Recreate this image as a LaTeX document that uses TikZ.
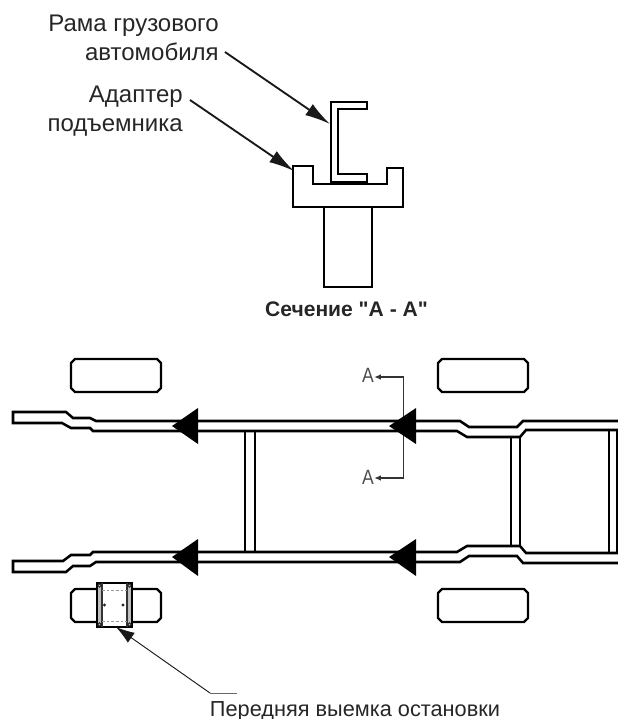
\documentclass[tikz,border=0pt]{standalone}
\usepackage{fontspec}
\setmainfont{Liberation Sans}[Ligatures=TeXOff]
\usetikzlibrary{arrows.meta}
\tikzset{
 lab/.style={font=\fontsize{18}{20}\selectfont,text=black!85,inner sep=0pt},
 thick line/.style={line width=1.8pt,line join=miter},
 rail/.style={line width=1.9pt,line join=miter,line cap=butt},
 leader/.style={line width=1.4pt,-{Latex[length=19pt,width=10pt]},black!90},
 tip/.style={fill=black,draw=none},
 wheel/.style={line width=1.8pt,line join=round},
 seclab/.style={font=\fontsize{15.5}{17}\selectfont,text=black!70,inner sep=0pt},
 secline/.style={line width=0.85pt,black!80,-{Latex[length=5pt,width=4pt]}},
}
\newcommand{\wheelbox}[2]{\draw[wheel] (#1+4,#2) -- (#1+86,#2) -- (#1+90,#2+4) -- (#1+90,#2+29) -- (#1+86,#2+33) -- (#1+4,#2+33) -- (#1,#2+29) -- (#1,#2+4) -- cycle;}
\begin{document}
\begin{tikzpicture}[x=0.75pt,y=-0.75pt]
\useasboundingbox (0,0) rectangle (618,719);
% section view
\draw[thick line] (331,102) -- (367,102) -- (367,109) -- (338,109) -- (338,174) -- (367,174) -- (367,182) -- (331,182) -- cycle;
\draw[thick line] (293,166) -- (313,166) -- (313,184) -- (387,184) -- (387,168) -- (403,168) -- (403,207) -- (293,207) -- cycle;
\draw[thick line] (324,207) -- (324,287) -- (372,287) -- (372,207);
\node[lab,anchor=base east] (t1) at (219,31) {Рама грузового};
\node[lab,anchor=base east] (t2) at (219,60) {автомобиля};
\node[lab,anchor=base east] (t3) at (183,102) {Адаптер};
\node[lab,anchor=base east] (t4) at (183,131) {подъемника};
\coordinate (e1) at (330,124);
\coordinate (e2) at (294,171);
\coordinate (s1) at (225,52);
\coordinate (s2) at (190,100);
\draw[leader] (s1) -- (e1);
\draw[leader] (s2) -- (e2);
\node[lab,anchor=base,font=\fontsize{15.8}{18}\selectfont\bfseries] (cap) at (346.5,316) {Сечение "А - А"};
% wheels
\wheelbox{71}{359}
\wheelbox{438}{359}
\wheelbox{71}{589}
\wheelbox{438}{589}
% rails
\draw[rail] (618,421) -- (523,421) -- (517,427) -- (469,427) -- (460,421) -- (96,421) -- (90,418) -- (73,418) -- (66,412) -- (13,412) -- (13,423) -- (62,423) -- (71,428) -- (90,428) -- (93,431) -- (457,431) -- (467,437) -- (520,437) -- (526,430) -- (618,430);
\draw[rail] (618,553) -- (526,553) -- (520,546) -- (467,546) -- (457,552) -- (93,552) -- (90,555) -- (71,555) -- (63,561) -- (13,561) -- (13,572) -- (66,572) -- (73,566) -- (90,566) -- (96,562) -- (460,562) -- (469,556) -- (517,556) -- (523,563) -- (618,563);
% cross members
\draw[rail] (245,431) -- (245,552) (255,431) -- (255,552);
\draw[rail] (511,437) -- (511,546) (520,437) -- (520,546);
\draw[rail] (609,430) -- (609,553) (617,430) -- (617,553);
% section line
\node[seclab] (a1) at (368,375) {\scalebox{0.85}[1]{A}};
\node[seclab] (a2) at (368,477) {\scalebox{0.85}[1]{A}};
\coordinate (c1) at (403.5,377);
\coordinate (c2) at (403.5,478);
\draw[secline] (c1) -- (a1.east |- c1);
\draw[secline] (c2) -- (a2.east |- c2);
\draw[line width=0.85pt,black!80] (c1) -- (c2);
% triangles
\fill[tip] (172,426) -- (198,408) -- (198,444) -- cycle;
\fill[tip] (389,426) -- (416,408) -- (416,444) -- cycle;
\fill[tip] (172,557) -- (198,539) -- (198,576) -- cycle;
\fill[tip] (389,557) -- (416,539) -- (416,576) -- cycle;
% fixture
\fill[white] (97,583) rectangle (132,627);
\fill[black!25] (97,583) rectangle (102,627) (127,583) rectangle (132,627);
\draw[line width=1.2pt] (97,583) rectangle (132,627);
\draw[line width=1pt,black!80] (102,583) -- (102,627) (127,583) -- (127,627);
\draw[line width=0.4pt,black!40,dash pattern=on 2pt off 1.5pt] (102,590) -- (127,590) (102,621) -- (127,621);
\foreach \p in {(104.5,605),(123,605)} \fill[black!85] \p circle (1.7);
\foreach \p in {(99.5,585.5),(129.5,585.5),(99.5,624.5),(129.5,624.5)} \draw[line width=0.7pt,black!85] \p circle (1.8);
% lower leader
\coordinate (f1) at (116,627);
\coordinate (f2) at (210,693);
\coordinate (f3) at (237,693);
\draw[line width=0.7pt,black!90,{Latex[length=14pt,width=9pt]}-] (f1) -- (f2);
\draw[line width=0.7pt,black!60] (f2) -- (f3);
\node[lab,anchor=base,font=\fontsize{16.3}{18}\selectfont] (front) at (355,716) {Передняя выемка остановки};
\end{tikzpicture}
\end{document}
